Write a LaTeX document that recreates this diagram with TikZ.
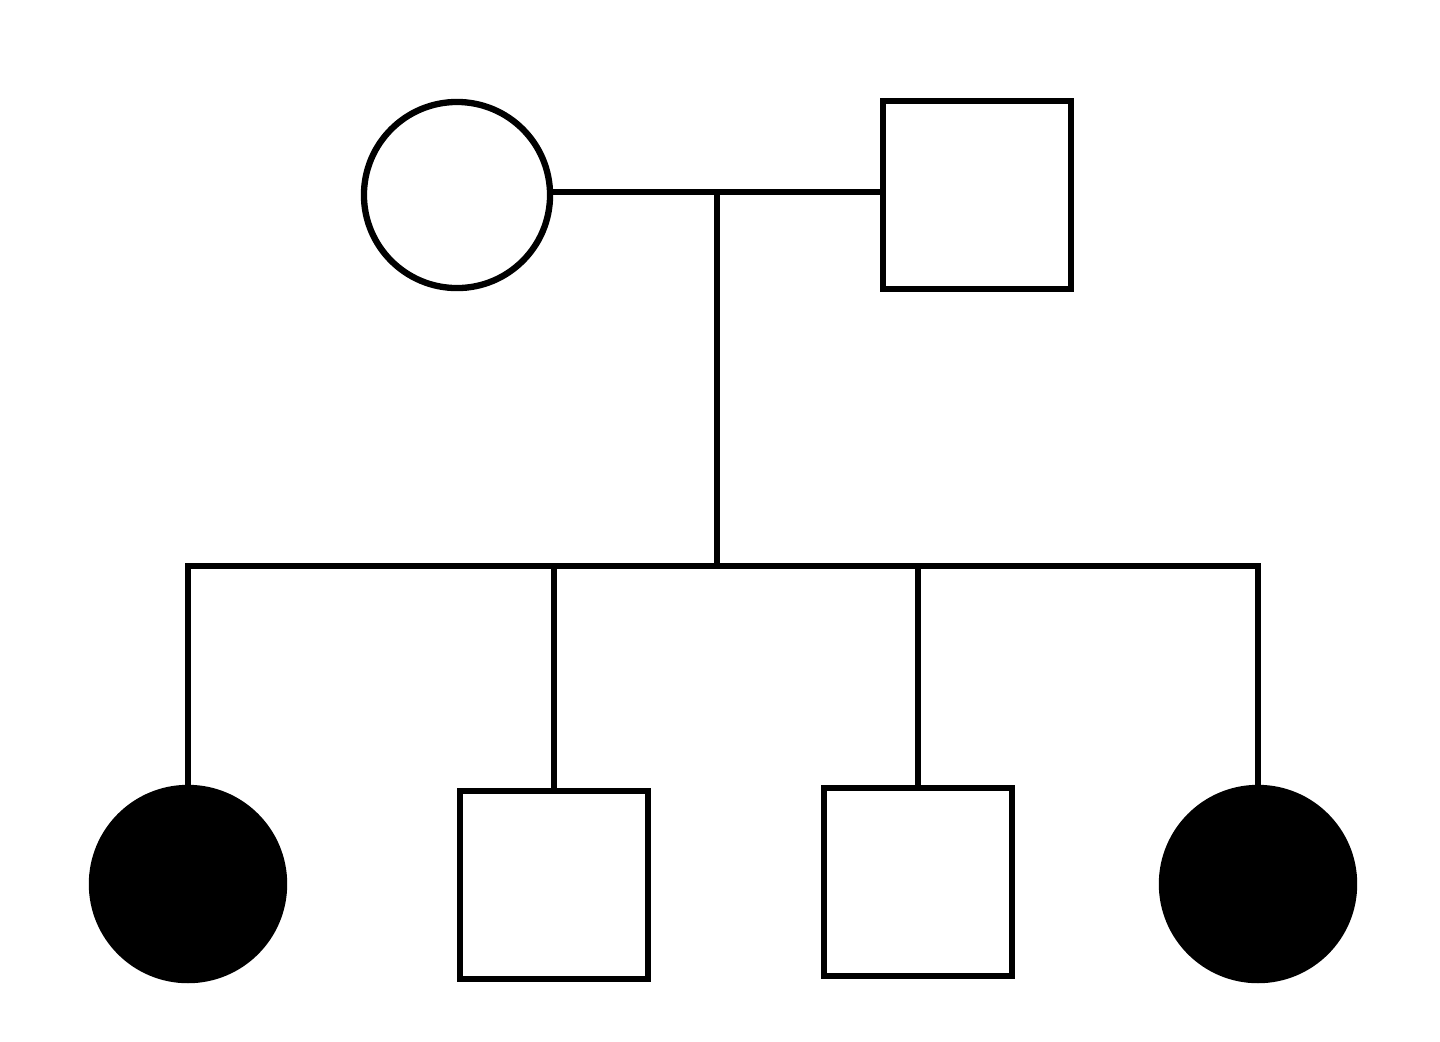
\documentclass[tikz,border=0pt]{standalone}
\usepackage{tikz}

\begin{document}
\begin{tikzpicture}[x=0.01cm, y=-0.01cm, line width=1.8pt]
\tikzstyle{female}=[circle, draw, minimum size=1.86cm, inner sep=0pt]
\tikzstyle{male}=[rectangle, draw, minimum size=1.88cm, inner sep=0pt]
\tikzstyle{affected}=[fill=black, minimum size=1.92cm]
\useasboundingbox (0,0) rectangle (1440,1041);
\node[female] (M) at (457,195) {};
\node[male] (F) at (977,195) {};
\node[female, affected] (C1) at (188,884) {};
\node[male] (C2) at (554,885) {};
\node[male] (C3) at (918,882) {};
\node[female, affected] (C4) at (1258,884) {};
\coordinate (U) at (717,192);
\coordinate (S) at (717,566);
\draw (M.east |- U) -- (F.west |- U);
\draw (U) -- (S);
\draw (C1.north) -- (C1.north |- S) -- (C4.north |- S) -- (C4.north);
\draw (C2.north |- S) -- (C2.north)
      (C3.north |- S) -- (C3.north);

\end{tikzpicture}
\end{document}
